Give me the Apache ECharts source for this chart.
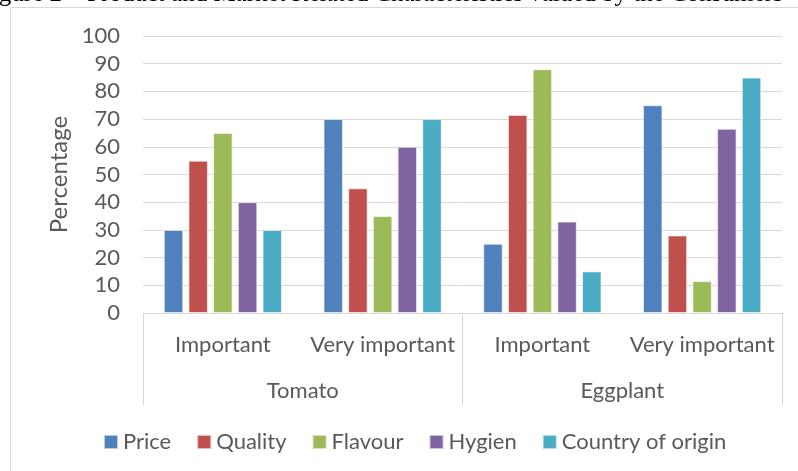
<!DOCTYPE html>
<html>
<head>
<meta charset="utf-8">
<script src="https://cdn.jsdelivr.net/npm/echarts@6/dist/echarts.min.js"></script>
<style>
html,body{margin:0;padding:0;background:#fff;}
#c{width:798px;height:471px;}
</style>
</head>
<body>
<div id="c"></div>
<script>
var levels = ['Important', 'Very important', 'Important', 'Very important'];
var crops = ['Tomato', 'Eggplant'];
var seriesNames = ['Price', 'Quality', 'Flavour', 'Hygien', 'Country of origin'];
var price = [30, 70, 25, 75];
var quality = [55, 45, 71.5, 28];
var flavour = [65, 35, 88, 11.5];
var hygien = [40, 60, 33, 66.5];
var country = [30, 70, 15, 85];
var yTicks = [0, 10, 20, 30, 40, 50, 60, 70, 80, 90, 100];
var colors = ['#4F81BD', '#C0504D', '#9BBB59', '#8064A2', '#4BACC6'];
var values = [price, quality, flavour, hygien, country];

var font = 'Lato';
var textColor = '#595959';
var chart = echarts.init(document.getElementById('c'), null, {renderer: 'canvas'});
var series = seriesNames.map(function (n, i) {
  return {
    name: n,
    type: 'bar',
    data: values[i],
    xAxisIndex: 0,
    barCategoryGap: '26%',
    barGap: '27%',
    itemStyle: {color: colors[i], borderColor: 'rgba(255,255,255,0.6)', borderWidth: 1},
    emphasis: {disabled: true}
  };
});
chart.setOption({
  animation: false,
  color: colors,
  graphic: [
    {type: 'polyline', shape: {points: [[10.5, 471], [10.5, 7.5], [798, 7.5]]},
     style: {stroke: '#d9d9d9', lineWidth: 1, fill: null}},
    {type: 'text', left: -22, top: -18,
     style: {text: 'Figure 2 \u2013 Product and Market Related Characteristics valued by the Consumers',
       fontFamily: 'Liberation Serif', fontSize: 25, fill: '#000'}}
  ],
  grid: {left: 143, right: 16, top: 36, bottom: 158},
  legend: {
    data: seriesNames,
    bottom: 13,
    left: 98,
    icon: 'rect',
    itemWidth: 14,
    itemHeight: 14,
    itemGap: 25,
    textStyle: {fontFamily: font, fontSize: 22, color: textColor}
  },
  xAxis: [
    {
      type: 'category',
      data: levels,
      position: 'bottom',
      axisLine: {show: true, lineStyle: {color: '#d9d9d9', width: 1}},
      axisTick: {show: false},
      axisLabel: {fontFamily: font, fontSize: 22, color: textColor, margin: 21, interval: 0}
    },
    {
      type: 'category',
      data: crops,
      position: 'bottom',
      axisLine: {show: false},
      axisTick: {show: true, length: 92, lineStyle: {color: '#d9d9d9', width: 1}},
      axisLabel: {fontFamily: font, fontSize: 22, color: textColor, margin: 67, interval: 0},
      splitLine: {show: false}
    }
  ],
  yAxis: {
    type: 'value',
    min: yTicks[0],
    max: yTicks[yTicks.length - 1],
    interval: 10,
    name: 'Percentage',
    nameLocation: 'middle',
    nameGap: 70,
    nameTextStyle: {fontFamily: font, fontSize: 24, color: textColor},
    axisLine: {show: false},
    axisTick: {show: false},
    axisLabel: {fontFamily: font, fontSize: 22, color: textColor, margin: 23},
    splitLine: {lineStyle: {color: '#d9d9d9', width: 1}}
  },
  series: series
});
</script>
</body>
</html>
